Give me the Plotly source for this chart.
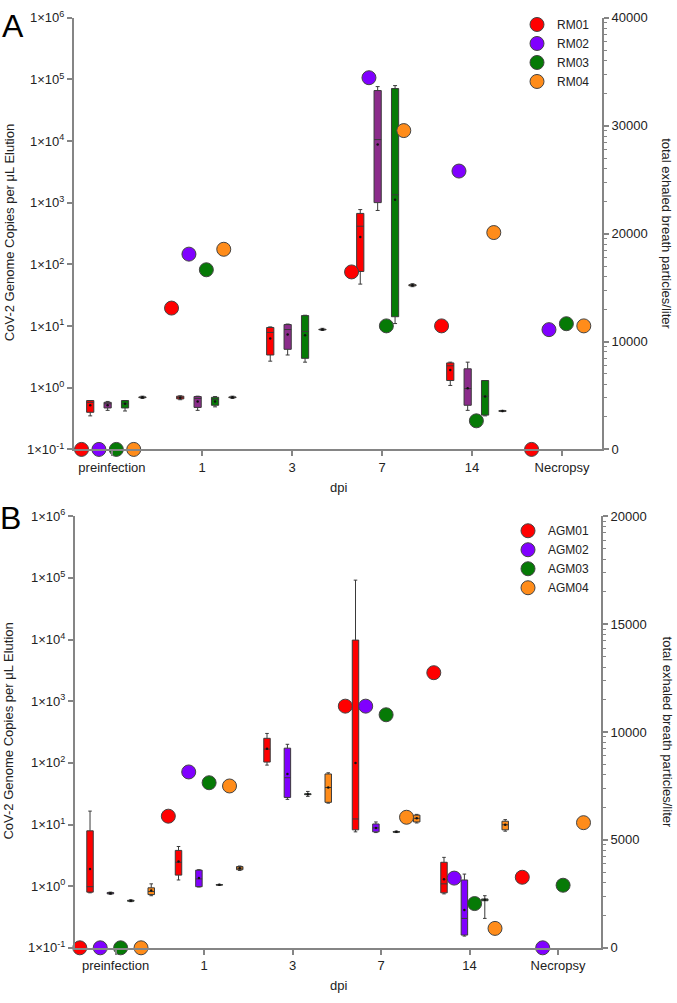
import math
import plotly.graph_objects as go

# ---------------- data ----------------
categories = ["preinfection", "1", "3", "7", "14", "Necropsy"]
box_categories = ["preinfection", "1", "3", "7", "14"]

# Panel A: rhesus macaques
rm_names = ["RM01", "RM02", "RM03", "RM04"]
# total exhaled breath particles/liter (right axis), per category
rm_particles = {
    "RM01": [0, 13100, None, 16450, 11450, 0],
    "RM02": [0, 18100, None, 34450, 25800, 11100],
    "RM03": [0, 16650, None, 11450, 2650, 11650],
    "RM04": [0, 18550, None, 29550, 20100, 11450],
}
# genome copies per uL elution (left log axis), box stats per box category
rm_lo = {
    "RM01": [0.35, 0.64, 2.7, 48, 1.09],
    "RM02": [0.43, 0.43, 3.4, 751, 0.43],
    "RM03": [0.42, 0.49, 2.6, 11, 0.35],
    "RM04": [0.67, 0.67, 8.5, 43.6, 0.41],
}
rm_q1 = {
    "RM01": [0.40, 0.66, 3.4, 77, 1.31],
    "RM02": [0.47, 0.48, 4.2, 1007, 0.52],
    "RM03": [0.47, 0.52, 3.0, 14.2, 0.36],
    "RM04": [0.69, 0.69, 8.7, 45, 0.415],
}
rm_med = {
    "RM01": [0.58, 0.70, 7.9, 417, 2.27],
    "RM02": [0.55, 0.67, 8.8, 10600, 0.97],
    "RM03": [0.55, 0.65, 8.2, 1350, 0.73],
    "RM04": [0.70, 0.70, 8.8, 46, 0.42],
}
rm_q3 = {
    "RM01": [0.62, 0.73, 9.5, 673, 2.53],
    "RM02": [0.58, 0.72, 10.6, 66200, 2.03],
    "RM03": [0.62, 0.70, 14.8, 71300, 1.31],
    "RM04": [0.71, 0.71, 8.9, 47, 0.425],
}
rm_hi = {
    "RM01": [0.62, 0.74, 9.7, 776, 2.6],
    "RM02": [0.60, 0.73, 10.8, 76700, 2.6],
    "RM03": [0.62, 0.72, 15, 79600, 1.31],
    "RM04": [0.73, 0.73, 9.2, 48.7, 0.43],
}
rm_mean = {
    "RM01": [0.52, 0.69, 6.3, 279, 1.95],
    "RM02": [0.52, 0.60, 7.3, 8800, 0.98],
    "RM03": [0.55, 0.60, 7.1, 1125, 0.72],
    "RM04": [0.70, 0.70, 8.8, 46, 0.42],
}

# Panel B: African green monkeys
agm_names = ["AGM01", "AGM02", "AGM03", "AGM04"]
agm_particles = {
    "AGM01": [0, 6100, None, 11200, 12750, 3270],
    "AGM02": [0, 8150, None, 11200, 3230, 0],
    "AGM03": [0, 7650, None, 10800, 2050, 2900],
    "AGM04": [0, 7500, None, 6050, 900, 5800],
}
agm_lo = {
    "AGM01": [0.78, 1.26, 92, 7.6, 0.75],
    "AGM02": [0.74, 0.97, 25.6, 7.4, 0.155],
    "AGM03": [0.56, 1.03, 28.6, 7.4, 0.30],
    "AGM04": [0.70, 1.80, 22.2, 10.6, 7.8],
}
agm_q1 = {
    "AGM01": [0.80, 1.51, 103, 8.2, 0.78],
    "AGM02": [0.75, 0.98, 27.5, 7.6, 0.161],
    "AGM03": [0.57, 1.04, 30.5, 7.5, 0.58],
    "AGM04": [0.73, 1.85, 22.9, 11, 8.2],
}
agm_med = {
    "AGM01": [0.98, 2.44, 167, 12.3, 1.09],
    "AGM02": [0.77, 1.31, 57.4, 8.8, 0.30],
    "AGM03": [0.58, 1.05, 31, 7.6, 0.60],
    "AGM04": [0.82, 1.96, 39.8, 12.6, 9.9],
}
agm_q3 = {
    "AGM01": [7.9, 3.8, 250, 9800, 2.44],
    "AGM02": [0.79, 1.82, 173, 10.2, 1.26],
    "AGM03": [0.59, 1.06, 31.5, 7.7, 0.62],
    "AGM04": [0.94, 2.08, 66, 14.2, 11.3],
}
agm_hi = {
    "AGM01": [16.5, 4.4, 300, 92000, 2.93],
    "AGM02": [0.80, 1.85, 200, 11, 1.57],
    "AGM03": [0.60, 1.07, 34.4, 7.8, 0.70],
    "AGM04": [1.09, 2.12, 69, 14.6, 12],
}
agm_mean = {
    "AGM01": [1.89, 2.5, 170, 99.6, 1.3],
    "AGM02": [0.77, 1.35, 66, 8.8, 0.41],
    "AGM03": [0.58, 1.05, 31, 7.6, 0.60],
    "AGM04": [0.85, 1.96, 40, 12.6, 9.9],
}

y_tick_vals = [0.1, 1, 10, 100, 1000, 10000, 100000, 1000000]
y_tick_text = ["1×10<sup>-1</sup>", "1×10<sup>0</sup>", "1×10<sup>1</sup>", "1×10<sup>2</sup>",
               "1×10<sup>3</sup>", "1×10<sup>4</sup>", "1×10<sup>5</sup>", "1×10<sup>6</sup>"]

# ---------------- styles ----------------
circle_colors = ["#FF0000", "#8000FF", "#067A06", "#FF8C1A"]
box_colors_A = ["#FF0000", "#8B2C8B", "#067A06", "#FF8C1A"]
box_colors_B = ["#FF0000", "#8000FF", "#067A06", "#FF8C1A"]
FONT = "Liberation Sans, Arial, sans-serif"
W, H = 677, 1003


def px_x(p):
    return p / W


def px_y(p):
    return 1 - p / H


fig = go.Figure()


def add_panel(names, particles, lo, q1, med, q3, hi, mean, xa, ya_left, ya_right,
              step, box_w, box_colors, legend):
    offsets = [(j - 3.5) * step for j in range(8)]
    cat_idx = list(range(len(categories)))
    box_idx = list(range(len(box_categories)))
    # boxes
    for k, n in enumerate(names):
        xs = [i + offsets[2 * k + 1] for i in box_idx]
        fig.add_trace(go.Box(
            x=xs, q1=q1[n], median=med[n], q3=q3[n],
            lowerfence=lo[n], upperfence=hi[n],
            width=box_w, whiskerwidth=0.55,
            fillcolor=box_colors[k], line=dict(color="#3a3a3a", width=1),
            boxpoints=False, showlegend=False, hoverinfo="skip",
            xaxis=xa, yaxis=ya_left,
        ))
        fig.add_trace(go.Scatter(
            x=xs, y=mean[n], mode="markers",
            marker=dict(size=2.5, color="#111"),
            showlegend=False, hoverinfo="skip", xaxis=xa, yaxis=ya_left,
        ))
    # circles
    for k, n in enumerate(names):
        xs = [i + offsets[2 * k] for i in cat_idx]
        fig.add_trace(go.Scatter(
            x=xs, y=particles[n], mode="markers", name=n,
            marker=dict(size=14, color=circle_colors[k], line=dict(color="#444", width=1)),
            cliponaxis=False, legend=legend, xaxis=xa, yaxis=ya_right,
        ))


add_panel(rm_names, rm_particles, rm_lo, rm_q1, rm_med, rm_q3, rm_hi, rm_mean,
          "x", "y", "y2", 0.0967, 0.08, box_colors_A, "legend")
add_panel(agm_names, agm_particles, agm_lo, agm_q1, agm_med, agm_q3, agm_hi, agm_mean,
          "x2", "y3", "y4", 0.1153, 0.073, box_colors_B, "legend2")

axis_common = dict(showline=True, linecolor="#858585", linewidth=2, ticks="outside",
                   tickcolor="#858585", tickwidth=1.5, ticklen=5, showgrid=False,
                   zeroline=False, tickfont=dict(family=FONT, size=13, color="#222"))

xA_dom = [px_x(74), px_x(602)]
xB_dom = [px_x(75), px_x(601)]
yA_dom = [px_y(448), px_y(9)]
yB_dom = [px_y(955), px_y(516)]


def minor_vals(top, major):
    vals = []
    for m in range(0, top, major):
        for kk in range(2, 10):
            vals.append(m + major * math.log10(kk))
    return vals


fig.update_layout(
    width=W, height=H, margin=dict(l=0, r=0, t=0, b=0),
    paper_bgcolor="white", plot_bgcolor="white",
    font=dict(family=FONT, size=13, color="#222"),
    boxmode="overlay",
    xaxis=dict(domain=xA_dom, range=[-0.422, 5.444], tickmode="array",
               tickvals=list(range(6)), ticktext=categories, anchor="y", **axis_common),
    yaxis=dict(domain=yA_dom, type="log", range=[-1, 6], tickmode="array",
               tickvals=y_tick_vals, ticktext=y_tick_text, anchor="x", **axis_common),
    yaxis2=dict(domain=yA_dom, overlaying="y", side="right", anchor="x", range=[0, 40000],
                tickmode="array", tickvals=[0, 10000, 20000, 30000, 40000],
                ticktext=["0", "10000", "20000", "30000", "40000"],
                minor=dict(tickmode="array", tickvals=minor_vals(40000, 10000), ticks="outside",
                           ticklen=3, tickcolor="#858585", tickwidth=1),
                **axis_common),
    xaxis2=dict(domain=xB_dom, range=[-0.458, 5.486], tickmode="array",
                tickvals=list(range(6)), ticktext=categories, anchor="y3", **axis_common),
    yaxis3=dict(domain=yB_dom, type="log", range=[-1, 6], tickmode="array",
                tickvals=y_tick_vals, ticktext=y_tick_text, anchor="x2", **axis_common),
    yaxis4=dict(domain=yB_dom, overlaying="y3", side="right", anchor="x2", range=[0, 20000],
                tickmode="array", tickvals=[0, 5000, 10000, 15000, 20000],
                ticktext=["0", "5000", "10000", "15000", "20000"],
                minor=dict(tickmode="array", tickvals=minor_vals(20000, 5000), ticks="outside",
                           ticklen=3, tickcolor="#858585", tickwidth=1),
                **axis_common),
    legend=dict(x=px_x(517), y=px_y(1), xanchor="left", yanchor="top",
                font=dict(family=FONT, size=12, color="#222"), bgcolor="rgba(0,0,0,0)",
                itemsizing="trace", tracegroupgap=0),
    legend2=dict(x=px_x(508), y=px_y(516), xanchor="left", yanchor="top",
                 font=dict(family=FONT, size=12, color="#222"), bgcolor="rgba(0,0,0,0)",
                 itemsizing="trace", tracegroupgap=0),
)

ann = []
ann.append(dict(text="A", x=px_x(0), y=px_y(17), xanchor="left", yanchor="middle",
                font=dict(family=FONT, size=32, color="#000")))
ann.append(dict(text="B", x=px_x(-2), y=px_y(518), xanchor="left", yanchor="middle",
                font=dict(family=FONT, size=32, color="#000")))
for yc, yd in [(228, 487), (735, 993)]:
    ann.append(dict(text="CoV-2 Genome Copies per μL Elution", x=px_x(9), y=px_y(yc),
                    textangle=-90, xanchor="center", yanchor="middle",
                    font=dict(family=FONT, size=13, color="#222")))
    ann.append(dict(text="total exhaled breath particles/liter", x=px_x(667), y=px_y(yc),
                    textangle=90, xanchor="center", yanchor="middle",
                    font=dict(family=FONT, size=13, color="#222")))
    ann.append(dict(text="dpi", x=px_x(338), y=px_y(yd), xanchor="center", yanchor="middle",
                    font=dict(family=FONT, size=13, color="#222")))
for a in ann:
    a.update(xref="paper", yref="paper", showarrow=False)
fig.update_layout(annotations=ann)

fig.write_html("out.html", config={"displayModeBar": False},
               post_script="document.body.style.margin='0';document.body.style.overflow='hidden';")
